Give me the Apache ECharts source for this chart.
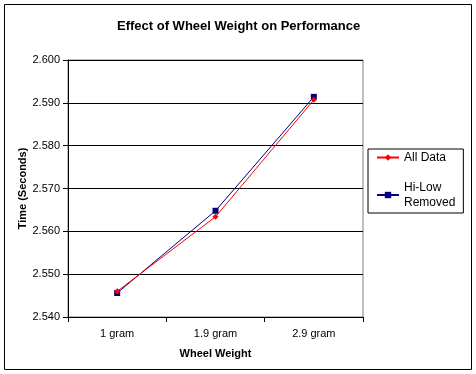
<!DOCTYPE html>
<html><head><meta charset="utf-8">
<script src="https://cdn.jsdelivr.net/npm/echarts@6/dist/echarts.min.js"></script>
<style>html,body{margin:0;padding:0;background:#fff}#c{width:476px;height:374px}</style>
</head><body><div id="c"></div>
<script>
const categories = ['1 gram', '1.9 gram', '2.9 gram'];
const allData = [2.5460, 2.5634, 2.5907];
const hiLowRemoved = [2.5456, 2.5648, 2.5914];
const yTicks = [2.54, 2.55, 2.56, 2.57, 2.58, 2.59, 2.60];

const chart = echarts.init(document.getElementById('c'), null, {renderer: 'canvas'});
const font = 'Liberation Sans, Arial, sans-serif';
chart.setOption({
  backgroundColor: '#fff',
  animation: false,
  textStyle: {fontFamily: font},
  title: {
    text: 'Effect of Wheel Weight on Performance',
    left: 112, top: 15,
    textStyle: {fontSize: 13, fontWeight: 'bold', color: '#000', fontFamily: font}
  },
  graphic: [{
    type: 'rect', shape: {x: 4.5, y: 4.5, width: 467, height: 365},
    style: {fill: 'none', stroke: '#000', lineWidth: 1}, silent: true, z: -1
  }],
  grid: {left: 68, top: 60, width: 295, height: 257, show: true, borderColor: '#808080', borderWidth: 1, backgroundColor: 'transparent'},
  legend: {
    orient: 'vertical', left: 368, top: 149, width: 96,
    borderColor: '#000', borderWidth: 1, padding: [1, 8, 3, 8],
    itemWidth: 22, itemHeight: 8, itemGap: 15,
    textStyle: {fontSize: 12, color: '#000', fontFamily: font, lineHeight: 15},
    data: ['All Data', 'Hi-Low\nRemoved']
  },
  xAxis: {
    type: 'category', data: categories, boundaryGap: true,
    name: 'Wheel Weight', nameLocation: 'middle', nameGap: 31, nameMoveOverlap: false,
    nameTextStyle: {fontSize: 11, fontWeight: 'bold', color: '#000', fontFamily: font},
    axisLine: {lineStyle: {color: '#000', width: 1}},
    axisTick: {show: true, alignWithLabel: false, length: 5, lineStyle: {color: '#000'}},
    axisLabel: {fontSize: 11, color: '#000', margin: 11, fontFamily: font}
  },
  yAxis: {
    type: 'value', min: 2.54, max: 2.60, interval: 0.01,
    name: 'Time (Seconds)', nameLocation: 'middle', nameGap: 40, nameRotate: 90, nameMoveOverlap: false,
    nameTextStyle: {fontSize: 11, fontWeight: 'bold', color: '#000', fontFamily: font},
    axisLine: {show: true, lineStyle: {color: '#000', width: 1}},
    axisTick: {show: true, length: 5, lineStyle: {color: '#000'}},
    axisLabel: {fontSize: 11, color: '#000', margin: 8, fontFamily: font,
      formatter: v => yTicks.find(t => Math.abs(t - v) < 1e-9) !== undefined ? v.toFixed(3) : ''},
    splitLine: {show: true, lineStyle: {color: '#000', width: 1}}
  },
  series: [{
    name: 'All Data', type: 'line', data: allData,
    symbol: 'diamond', symbolSize: 6,
    itemStyle: {color: '#ff0000'}, lineStyle: {color: '#ff0000', width: 1}, z: 3
  }, {
    name: 'Hi-Low\nRemoved', type: 'line', data: hiLowRemoved,
    symbol: 'rect', symbolSize: 6,
    itemStyle: {color: '#000080'}, lineStyle: {color: '#000080', width: 1}, z: 2
  }]
});
</script></body></html>
